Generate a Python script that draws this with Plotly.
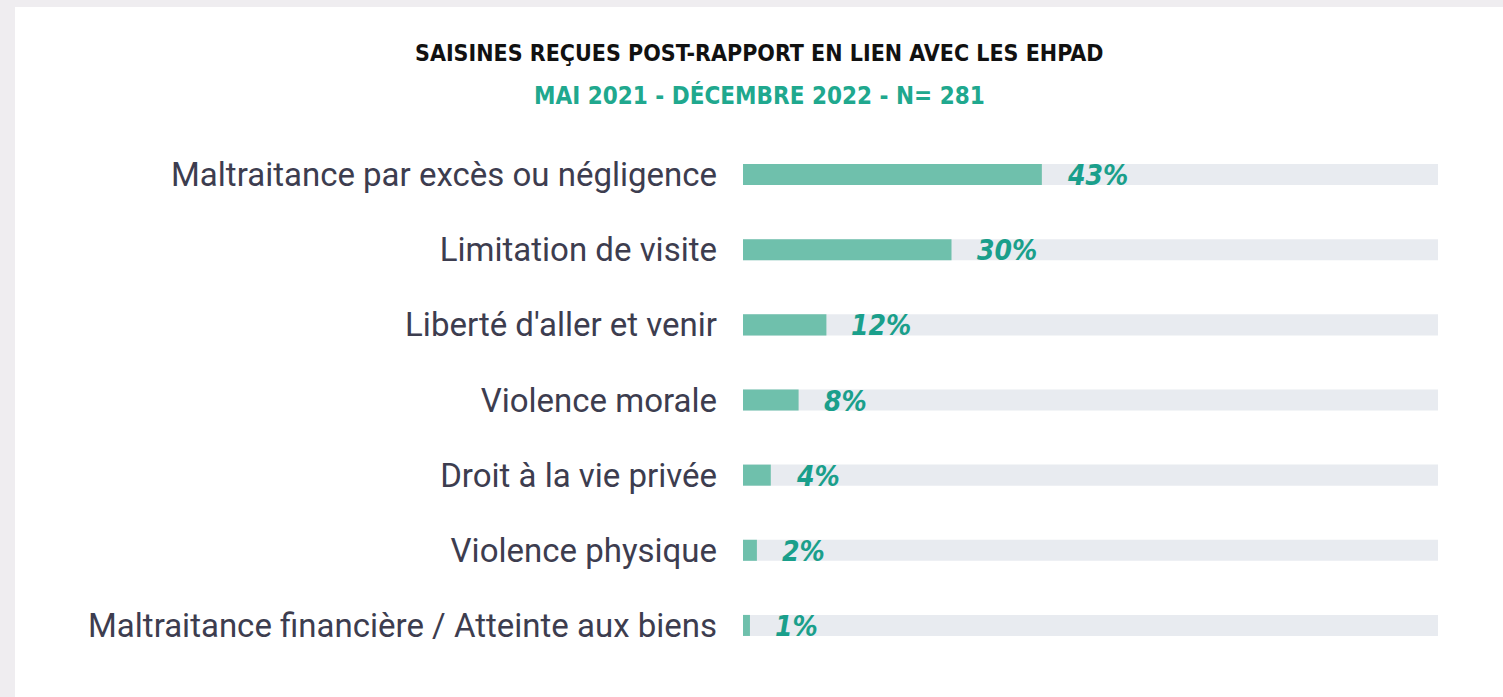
import plotly.graph_objects as go

categories = [
    "Maltraitance par excès ou négligence",
    "Limitation de visite",
    "Liberté d'aller et venir",
    "Violence morale",
    "Droit à la vie privée",
    "Violence physique",
    "Maltraitance financière / Atteinte aux biens",
]
values = [43, 30, 12, 8, 4, 2, 1]
track_max = [100] * len(categories)
value_labels = [f"{v}%" for v in values]

title_text = "SAISINES REÇUES POST-RAPPORT EN LIEN AVEC LES EHPAD"
subtitle_text = "MAI 2021 - DÉCEMBRE 2022 - N= 281"

TEAL_BAR = "#6fc0ac"
TEAL_TEXT = "#1a9f8b"
TRACK = "#e8ebf0"

fig = go.Figure()
fig.add_trace(go.Bar(
    y=categories, x=track_max, orientation="h",
    marker=dict(color=TRACK, line=dict(width=0)),
    width=0.28, hoverinfo="skip", showlegend=False,
))
fig.add_trace(go.Bar(
    y=categories, x=values, orientation="h",
    marker=dict(color=TEAL_BAR, line=dict(width=0)),
    width=0.28, showlegend=False,
))

for c, v, t in zip(categories, values, value_labels):
    fig.add_annotation(
        x=v, y=c, text=t, showarrow=False, xanchor="left", yanchor="middle",
        xshift=23, yshift=-1,
        font=dict(family="DejaVu Sans Condensed", size=28, color=TEAL_TEXT,
                  weight="bold", style="italic"),
    )

# plot area: x 743..1438, y 137..663
L, R, T, B = 743, 1438, 137, 663
W, H = R - L, B - T

def px_x(p):
    return (p - L) / W

def px_y(p):
    return (B - p) / H

fig.add_shape(type="rect", xref="paper", yref="paper",
              x0=px_x(15), x1=px_x(1510), y0=px_y(7), y1=px_y(700),
              fillcolor="white", line=dict(width=0), layer="below")

fig.add_annotation(
    xref="paper", yref="paper", x=px_x(759), y=px_y(53), text=title_text,
    showarrow=False, xanchor="center", yanchor="middle",
    font=dict(family="DejaVu Sans Condensed", size=23, color="#111111", weight="bold"),
)
fig.add_annotation(
    xref="paper", yref="paper", x=px_x(759), y=px_y(96), text=subtitle_text,
    showarrow=False, xanchor="center", yanchor="middle",
    font=dict(family="DejaVu Sans Condensed", size=24, color="#20a88e", weight="bold"),
)

fig.update_layout(
    width=1503, height=697,
    margin=dict(l=L, r=1503 - R, t=T, b=697 - B, pad=0),
    paper_bgcolor="#efedf0", plot_bgcolor="white",
    barmode="overlay",
    xaxis=dict(range=[0, 100], visible=False, fixedrange=True),
    yaxis=dict(
        categoryorder="array", categoryarray=categories, autorange="reversed",
        showgrid=False, zeroline=False, showline=False, ticks="",
        ticklabelstandoff=25,
        tickfont=dict(family="Roboto", size=33, color="#3d3d4f"),
    ),
)

fig.write_html(
    "out.html",
    config={"displayModeBar": False},
    post_script="document.body.style.margin='0';document.body.style.padding='0';document.body.style.background='#ffffff';",
)
